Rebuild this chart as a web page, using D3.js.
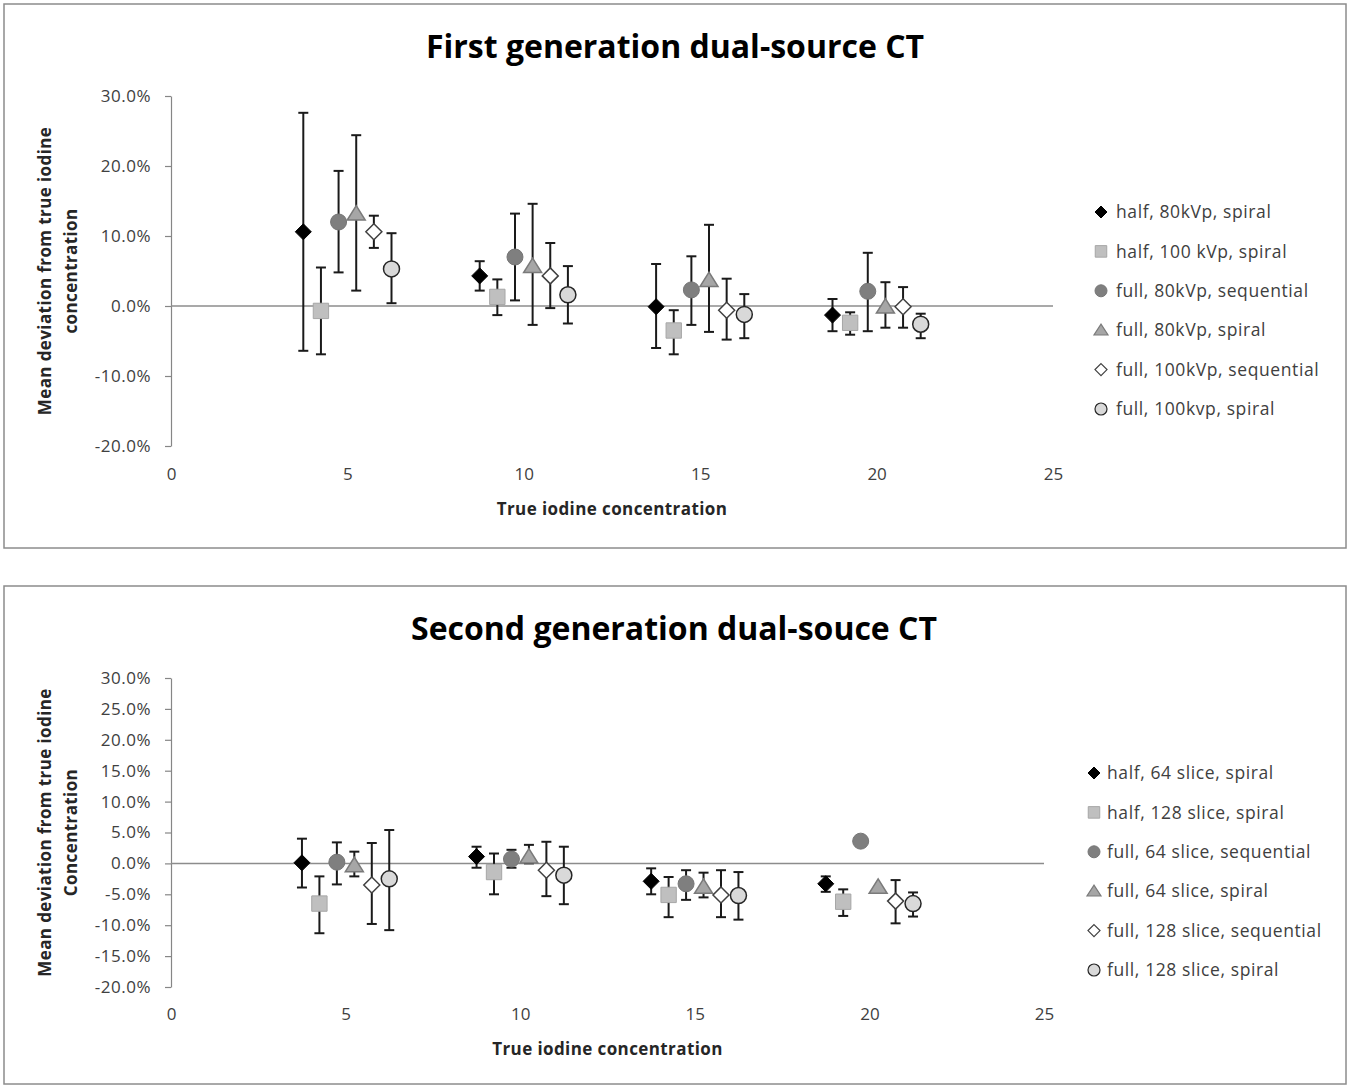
<!DOCTYPE html>
<html>
<head>
<meta charset="utf-8">
<script src="https://cdn.jsdelivr.net/npm/d3@7/dist/d3.min.js"></script>
<style>
  body { margin: 0; background: #fff; }
  text { font-family: "Open Sans", "Noto Sans", sans-serif; fill: #404040; }
</style>
</head>
<body>
<svg id="chart" width="1351" height="1088"></svg>
<script>
// concentrations and per-series x jitter (each series is offset around the true value)
var concentrations = [5, 10, 15, 20];
var xOffsets = [-1.25, -0.75, -0.25, 0.25, 0.75, 1.25];
var xTicks = [0, 5, 10, 15, 20, 25];

var gen1Labels = ["half, 80kVp, spiral", "half, 100 kVp, spiral", "full, 80kVp, sequential",
                  "full, 80kVp, spiral", "full, 100kVp, sequential", "full, 100kvp, spiral"];
var gen2Labels = ["half, 64 slice, spiral", "half, 128 slice, spiral", "full, 64 slice, sequential",
                  "full, 64 slice, spiral", "full, 128 slice, sequential", "full, 128 slice, spiral"];

// mean deviation (%) per series, per concentration
var gen1Mean = [
  [10.6, 4.3, -0.1, -1.3],
  [-0.7, 1.3, -3.5, -2.4],
  [12.0, 7.0, 2.3, 2.1],
  [13.2, 5.7, 3.7, -0.1],
  [10.6, 4.3, -0.6, -0.1],
  [5.3, 1.6, -1.2, -2.6]
];
var gen1Upper = [
  [27.6, 6.4, 6.0, 1.0],
  [5.5, 3.8, -0.6, -0.9],
  [19.3, 13.2, 7.1, 7.6],
  [24.4, 14.6, 11.6, 3.4],
  [12.9, 9.0, 3.9, 2.7],
  [10.4, 5.7, 1.7, -1.1]
];
var gen1Lower = [
  [-6.4, 2.2, -6.0, -3.6],
  [-6.9, -1.3, -6.9, -4.1],
  [4.8, 0.8, -2.7, -3.6],
  [2.2, -2.7, -3.7, -3.1],
  [8.3, -0.3, -4.8, -3.1],
  [0.4, -2.5, -4.6, -4.6]
];

var gen2Mean = [
  [0.1, 1.1, -2.9, -3.3],
  [-6.5, -1.4, -5.1, -6.2],
  [0.2, 0.7, -3.3, 3.6],
  [-0.3, 1.1, -3.8, -3.8],
  [-3.5, -1.1, -5.1, -6.1],
  [-2.5, -1.9, -5.2, -6.5]
];
var gen2Upper = [
  [4.0, 2.7, -0.8, -2.1],
  [-2.1, 1.6, -2.2, -4.2],
  [3.4, 2.2, -1.1, 3.6],
  [1.9, 3.0, -1.5, -3.8],
  [3.3, 3.5, -1.1, -2.7],
  [5.4, 2.7, -1.4, -4.7]
];
var gen2Lower = [
  [-3.9, -0.7, -5.0, -4.6],
  [-11.3, -5.0, -8.7, -8.5],
  [-3.4, -0.7, -5.9, 3.6],
  [-2.1, 0.0, -5.5, -3.8],
  [-9.8, -5.3, -8.7, -9.7],
  [-10.8, -6.6, -9.1, -8.6]
];

var gen1YTicks = [-20, -10, 0, 10, 20, 30];
var gen2YTicks = [-20, -15, -10, -5, 0, 5, 10, 15, 20, 25, 30];

// marker styles, one per series
var markerStyles = [
  {shape: "diamond", fill: "#000000", stroke: "#000000", sw: 1},
  {shape: "square", fill: "#bfbfbf", stroke: "#a6a6a6", sw: 1},
  {shape: "circle", fill: "#7f7f7f", stroke: "#767676", sw: 1},
  {shape: "triangle", fill: "#a6a6a6", stroke: "#7a7a7a", sw: 1.5},
  {shape: "diamond", fill: "#ffffff", stroke: "#404040", sw: 1.5},
  {shape: "circle", fill: "#d9d9d9", stroke: "#262626", sw: 1.5}
];

function markerPath(shape, s) {
  var h = s / 2;
  if (shape === "diamond") return "M0," + (-h) + "L" + h + ",0L0," + h + "L" + (-h) + ",0Z";
  if (shape === "square") { h = s * 0.48; return "M" + (-h) + "," + (-h) + "H" + h + "V" + h + "H" + (-h) + "Z"; }
  if (shape === "triangle") return "M0," + (-h) + "L" + (h + 1) + "," + (h * 0.8) + "L" + (-h - 1) + "," + (h * 0.8) + "Z";
  return d3.arc()({innerRadius: 0, outerRadius: h, startAngle: 0, endAngle: 2 * Math.PI});
}

var svg = d3.select("#chart");

function drawPanel(p) {
  var g = svg.append("g");

  g.append("rect")
    .attr("x", p.box[0]).attr("y", p.box[1])
    .attr("width", p.box[2]).attr("height", p.box[3])
    .attr("fill", "#fff").attr("stroke", "#8c8c8c").attr("stroke-width", 1.5);

  var x = d3.scaleLinear().domain([0, 25]).range([p.left, p.right]);
  var y = d3.scaleLinear().domain([-20, 30]).range([p.bottom, p.top]);

  // title
  g.append("text")
    .attr("x", p.titleX).attr("y", p.titleY)
    .attr("text-anchor", "middle")
    .style("font-size", "32px").style("font-weight", "bold").style("fill", "#000")
    .text(p.title);

  // y axis
  var yAxis = g.append("g")
    .attr("transform", "translate(" + p.left + ",0)")
    .call(d3.axisLeft(y).tickValues(p.yTicks).tickSize(6).tickSizeOuter(0).tickPadding(14)
      .tickFormat(function (d) { return d.toFixed(1) + "%"; }));
  yAxis.selectAll("line, path").attr("stroke", "#868686").attr("stroke-width", 1.2);
  yAxis.selectAll("text").style("font-size", "17px").style("letter-spacing", "0.5px")
    .style("fill", "#404040").attr("font-family", null);

  // x axis: labels only
  var xAxis = g.append("g")
    .attr("transform", "translate(0," + p.xLabelY + ")")
    .call(d3.axisBottom(x).tickValues(xTicks).tickSize(0).tickPadding(0));
  xAxis.select(".domain").remove();
  xAxis.selectAll("text").style("font-size", "17px").style("fill", "#404040").attr("font-family", null);

  // zero line
  g.append("line")
    .attr("x1", x(0)).attr("x2", x(25))
    .attr("y1", y(0)).attr("y2", y(0))
    .attr("stroke", "#8c8c8c").attr("stroke-width", 1.5);

  // axis titles
  g.append("text")
    .attr("x", x(12.5)).attr("y", p.xTitleY)
    .attr("text-anchor", "middle")
    .style("font-size", "17px").style("font-weight", "bold").style("letter-spacing", "0.4px")
    .style("fill", "#262626")
    .text("True iodine concentration");

  var yt = g.append("text")
    .attr("transform", "translate(" + p.yTitleX + "," + ((p.top + p.bottom) / 2) + ") rotate(-90)")
    .attr("text-anchor", "middle")
    .style("font-size", "17px").style("font-weight", "bold").style("letter-spacing", "0.4px")
    .style("fill", "#262626");
  p.yTitle.forEach(function (line, i) {
    yt.append("tspan").attr("x", 0).attr("dy", i === 0 ? 0 : "1.5em").text(line);
  });

  // points
  var pts = [];
  p.mean.forEach(function (row, s) {
    row.forEach(function (v, c) {
      pts.push({s: s, x: concentrations[c] + xOffsets[s], v: v, hi: p.upper[s][c], lo: p.lower[s][c]});
    });
  });

  var bars = g.append("g").selectAll("g").data(pts.filter(function (d) { return d.hi - d.lo > 0.05; }))
    .join("g").attr("stroke", "#1a1a1a").attr("stroke-width", 2);
  bars.append("line")
    .attr("x1", function (d) { return x(d.x); }).attr("x2", function (d) { return x(d.x); })
    .attr("y1", function (d) { return y(d.hi); }).attr("y2", function (d) { return y(d.lo); });
  bars.append("line")
    .attr("x1", function (d) { return x(d.x) - 5; }).attr("x2", function (d) { return x(d.x) + 5; })
    .attr("y1", function (d) { return y(d.hi); }).attr("y2", function (d) { return y(d.hi); });
  bars.append("line")
    .attr("x1", function (d) { return x(d.x) - 5; }).attr("x2", function (d) { return x(d.x) + 5; })
    .attr("y1", function (d) { return y(d.lo); }).attr("y2", function (d) { return y(d.lo); });

  g.append("g").selectAll("path").data(pts).join("path")
    .attr("transform", function (d) { return "translate(" + x(d.x) + "," + y(d.v) + ")"; })
    .attr("d", function (d) { return markerPath(markerStyles[d.s].shape, 16); })
    .attr("fill", function (d) { return markerStyles[d.s].fill; })
    .attr("stroke", function (d) { return markerStyles[d.s].stroke; })
    .attr("stroke-width", function (d) { return markerStyles[d.s].sw; });

  // legend
  var leg = g.append("g").selectAll("g").data(p.labels).join("g")
    .attr("transform", function (d, i) { return "translate(" + p.legX + "," + (p.legY + i * 39.4) + ")"; });
  leg.append("path")
    .attr("d", function (d, i) { return markerPath(markerStyles[i].shape, 12); })
    .attr("fill", function (d, i) { return markerStyles[i].fill; })
    .attr("stroke", function (d, i) { return markerStyles[i].stroke; })
    .attr("stroke-width", function (d, i) { return Math.min(markerStyles[i].sw, 1.2); });
  leg.append("text")
    .attr("x", p.legTextDx).attr("dy", "0.35em")
    .style("font-size", "17.5px").style("letter-spacing", "0.6px").style("fill", "#404040")
    .text(function (d) { return d; });
}

drawPanel({
  box: [4, 4, 1342, 544],
  left: 171, right: 1053, top: 96, bottom: 446,
  title: "First generation dual-source CT", titleX: 675, titleY: 58,
  yTicks: gen1YTicks, xLabelY: 468, xTitleY: 515, yTitleX: 51,
  yTitle: ["Mean deviation from true iodine", "concentration"],
  mean: gen1Mean, upper: gen1Upper, lower: gen1Lower,
  labels: gen1Labels, legX: 1101, legY: 212, legTextDx: 15
});

drawPanel({
  box: [4, 586, 1342, 498],
  left: 171, right: 1044, top: 678, bottom: 987,
  title: "Second generation dual-souce CT", titleX: 674, titleY: 640,
  yTicks: gen2YTicks, xLabelY: 1008, xTitleY: 1055, yTitleX: 51,
  yTitle: ["Mean deviation from true iodine", "Concentration"],
  mean: gen2Mean, upper: gen2Upper, lower: gen2Lower,
  labels: gen2Labels, legX: 1094, legY: 773, legTextDx: 13
});
</script>
</body>
</html>
